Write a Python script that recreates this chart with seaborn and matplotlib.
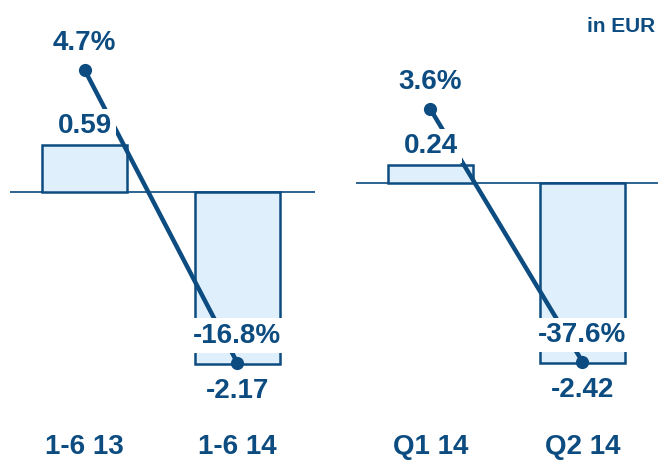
import numpy as np
import matplotlib
matplotlib.use("Agg")
import matplotlib.pyplot as plt
import seaborn as sns

# Earnings per share with year-on-year change: half-year (left) and quarters (right)
half_labels = ["1-6 13", "1-6 14"]
half_eps = [0.59, -2.17]
half_growth = [4.7, -16.8]
half_growth_text = ["4.7%", "-16.8%"]

quarter_labels = ["Q1 14", "Q2 14"]
quarter_eps = [0.24, -2.42]
quarter_growth = [3.6, -37.6]
quarter_growth_text = ["3.6%", "-37.6%"]

unit_text = "in EUR"

DARK = "#0d4c80"
FILL = "#dff0fc"
AXIS_LINE = "#2d6392"

sns.set_theme(style="white")
plt.rcParams["font.family"] = ["Liberation Sans", "DejaVu Sans"]
plt.rcParams["font.weight"] = "bold"

W, H = 658, 461
fig = plt.figure(figsize=(W / 100, H / 100), dpi=100)
fig.patch.set_facecolor("white")

AX_H = 430  # height of the plotting area in pixels, measured from the top


def limits(zero_px, px_per_unit):
    """y-limits that put zero at zero_px (from top) with the given pixel scale."""
    return (-(AX_H - zero_px) / px_per_unit, zero_px / px_per_unit)


def clear(ax):
    for s in ax.spines.values():
        s.set_visible(False)
    ax.set_yticks([])
    ax.set_xlabel("")
    ax.set_ylabel("")
    ax.grid(False)


def panel(left_px, width_px, xlim, labels, eps, growth, growth_text,
          bar_zero, bar_scale, line_zero, line_scale):
    ax = fig.add_axes([left_px / W, (H - AX_H) / H, width_px / W, AX_H / H])
    ax.set_facecolor("none")
    sns.barplot(x=labels, y=eps, ax=ax, width=0.56, color=FILL, saturation=1,
                edgecolor=DARK, linewidth=1.8, errorbar=None, zorder=2)
    ax.axhline(0, color=AXIS_LINE, lw=1.4, zorder=1)
    ax.set_ylim(*limits(bar_zero, bar_scale))
    clear(ax)
    ax.tick_params(axis="x", length=0, pad=3, labelsize=20, labelcolor=DARK)
    for t in ax.get_xticklabels():
        t.set_fontweight("bold")

    ax2 = ax.twinx()
    pos = np.arange(len(growth))
    sns.lineplot(x=pos, y=growth, ax=ax2, color=DARK, linewidth=3.2,
                 marker="o", markersize=9.5, markeredgewidth=0)
    ax2.set_ylim(*limits(line_zero, line_scale))
    clear(ax2)
    ax.set_xlim(*xlim)

    txt = dict(ha="center", va="baseline", fontsize=20, fontweight="bold",
               color=DARK, textcoords="offset points", annotation_clip=False,
               bbox=dict(boxstyle="square,pad=0.15", fc="white", ec="none"))

    for i, (g, label) in enumerate(zip(growth, growth_text)):
        ax2.annotate(label, xy=(i, g), xytext=(0, 14.4), **txt)

    for i, v in enumerate(eps):
        dy = 8.6 if v >= 0 else -24.3
        ax2.annotate(f"{v:.2f}", xy=(i, v), xycoords=ax.transData,
                     xytext=(0, dy), **txt)
    return ax, ax2


panel(10, 305, (-0.49, 1.51), half_labels, half_eps, half_growth,
      half_growth_text, 191.7, 79.3, 134.0, 13.61)
panel(356, 302, (-0.49, 1.497), quarter_labels, quarter_eps, quarter_growth,
      quarter_growth_text, 183.0, 74.5, 131.4, 6.126)

fig.text(655 / W, 1 - 32 / H, unit_text, ha="right", va="baseline",
         fontsize=15, fontweight="bold", color=DARK)

fig.savefig("out.png", dpi=100)
